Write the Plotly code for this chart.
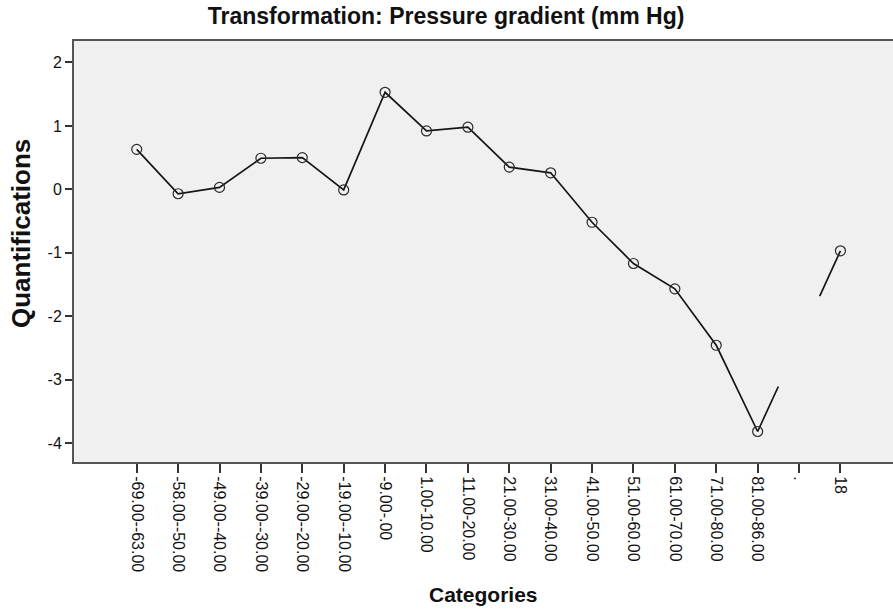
import plotly.graph_objects as go

# Category labels of the transformed variable (last two are the missing code and "18")
categories = [
    "-69.00--63.00", "-58.00--50.00", "-49.00--40.00", "-39.00--30.00",
    "-29.00--20.00", "-19.00--10.00", "-9.00-.00", "1.00-10.00",
    "11.00-20.00", "21.00-30.00", "31.00-40.00", "41.00-50.00",
    "51.00-60.00", "61.00-70.00", "71.00-80.00", "81.00-86.00",
    ".", "18",
]

# Optimal-scaling quantifications per category
quantifications = [
    0.63, -0.07, 0.03, 0.49, 0.50, -0.01, 1.53, 0.92,
    0.98, 0.35, 0.26, -0.52, -1.17, -1.57, -2.46, -3.82,
    -2.40, -0.97,
]

# Category whose quantification is not drawn as a point (missing code ".")
missing_label = "."

y_ticks = [-4, -3, -2, -1, 0, 1, 2]
y_tick_labels = ["-4", "-3", "-2", "-1", "0", "1", "2"]

FONT = "Liberation Sans, Arial, sans-serif"

idx = list(range(len(categories)))
miss = categories.index(missing_label)

# Points connected by the line: everything except the missing category.
# Around the missing category only the half segments next to its neighbours are drawn.
line_x, line_y = [], []
for i in idx:
    if i == miss:
        continue
    if i == miss + 1:
        # stub coming from halfway towards the missing category
        line_x += [None, i - 0.5]
        line_y += [None, (quantifications[miss] + quantifications[i]) / 2]
    line_x.append(i)
    line_y.append(quantifications[i])
    if i == miss - 1:
        line_x.append(i + 0.5)
        line_y.append((quantifications[i] + quantifications[miss]) / 2)

pts_x = [i for i in idx if i != miss]
pts_y = [quantifications[i] for i in pts_x]

fig = go.Figure()
fig.add_trace(go.Scatter(
    x=line_x, y=line_y, mode="lines",
    line=dict(color="#151515", width=1.7),
    connectgaps=False, hoverinfo="skip", showlegend=False,
))
fig.add_trace(go.Scatter(
    x=pts_x, y=pts_y, mode="markers",
    marker=dict(symbol="circle-open", size=10, color="#2a2a2a",
                line=dict(width=1.2, color="#2a2a2a")),
    showlegend=False,
))

fig.update_layout(
    width=893, height=610,
    margin=dict(l=74, r=0, t=41, b=148, autoexpand=False),
    paper_bgcolor="white",
    plot_bgcolor="#f0f0f0",
    font=dict(family=FONT, color="#111111"),
    title=dict(
        text="<b>Transformation: Pressure gradient (mm Hg)</b>",
        font=dict(family=FONT, size=23, color="#111111"),
        x=0.4995, xref="container", xanchor="center",
        y=1 - 15.5 / 610, yref="container", yanchor="middle",
    ),
    xaxis=dict(
        range=[-1.515, 18.27],
        tickmode="array", tickvals=idx, ticktext=categories,
        tickangle=90,
        ticks="outside", ticklen=9, tickwidth=1.5, tickcolor="#333333",
        tickfont=dict(family=FONT, size=16, color="#111111"),
        showgrid=False, zeroline=False,
        showline=True, linecolor="#555555", linewidth=2, mirror=True,
    ),
    yaxis=dict(
        range=[-4.301, 2.339],
        tickmode="array", tickvals=y_ticks, ticktext=y_tick_labels,
        ticks="outside", ticklen=7, tickwidth=1.5, tickcolor="#333333",
        tickfont=dict(family=FONT, size=16, color="#111111"),
        showgrid=False, zeroline=False,
        showline=True, linecolor="#555555", linewidth=2, mirror=False,
    ),
    annotations=[
        dict(text="<b>Categories</b>", xref="paper", yref="paper",
             x=(483 - 74) / 819, y=(462 - 594) / 421,
             xanchor="center", yanchor="middle", showarrow=False,
             font=dict(family=FONT, size=21, color="#111111")),
        dict(text="<b>Quantifications</b>", xref="paper", yref="paper",
             x=(21 - 74) / 819, y=(462 - 234) / 421, textangle=-90,
             xanchor="center", yanchor="middle", showarrow=False,
             font=dict(family=FONT, size=26, color="#111111")),
    ],
)

fig.write_html("out.html")
